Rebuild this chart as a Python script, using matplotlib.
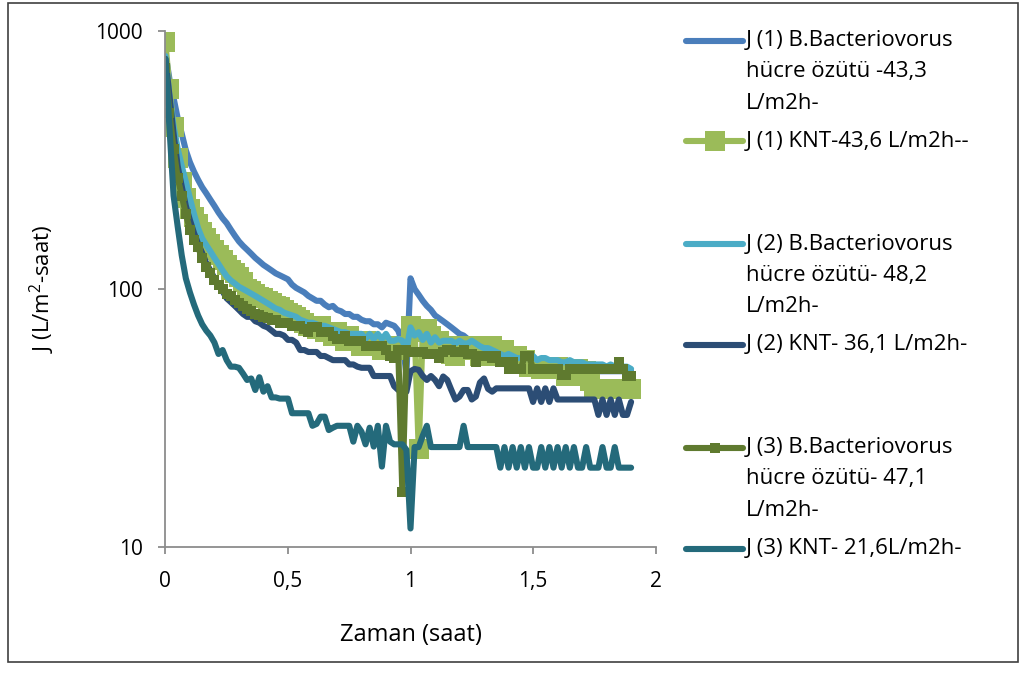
import numpy as np
import matplotlib
matplotlib.use("Agg")
import matplotlib.pyplot as plt
from matplotlib.lines import Line2D
from matplotlib.patches import Rectangle
from matplotlib.ticker import NullLocator, FixedLocator, FixedFormatter

plt.rcParams['font.family'] = ['Open Sans', 'DejaVu Sans']
plt.rcParams['mathtext.default'] = 'regular'

# ---------------- data (flux, L/m2h, one reading per minute) ----------------
minutes = np.arange(0, 115)
time_h = minutes / 60.0

j1_bb = [820, 650, 550, 460, 400, 345, 310, 285, 265, 248,
         235, 222, 210, 198, 188, 180, 170, 161, 153, 147,
         142, 137, 132, 128, 124, 121, 118, 115, 113, 111,
         109, 104, 101, 99, 97, 94, 92, 90, 90, 87,
         85, 86, 83, 82, 80, 80, 78, 78, 76, 75,
         75, 73, 73, 71, 74, 73, 72, 69, 62, 47,
         110, 100, 95, 90, 86, 83, 79, 77, 75, 73,
         71, 69, 67, 66, 64, 63, 61, 60, 59, 58,
         57.5, 57, 56, 55, 54.5, 54, 53.5, 53, 52.5, 52,
         52, 51.5, 51, 51, 50.5, 50.5, 50, 50, 49.5, 49.5,
         49, 49, 49, 48.5, 48.5, 48.5, 48, 48, 48, 48,
         48, 48, 48, 48, 48]

j1_knt = [906, 594, 426, 321, 261, 225, 205, 190, 178, 167,
          158, 150, 142, 136, 130, 124, 119, 115, 111, 106,
          100, 98, 96, 93, 92, 90, 88, 86, 85, 83,
          81, 79, 78, 76, 74, 72, 72, 70, 72, 68,
          68, 66, 68, 66, 63, 66, 63, 63, 60, 63,
          60, 60, 60, 58, 60, 58, 58, 58, 60, 60,
          72, 70, 24, 68, 70, 66, 63, 63, 60, 60,
          56, 55, 60, 60, 58, 60, 60, 55, 55, 55,
          60, 58, 58, 58, 55, 55, 55, 53, 53, 50,
          50, 50, 49, 49, 49, 50, 50, 49, 46, 46,
          49, 49, 48, 48, 44, 41, 41, 41, 41, 41,
          41, 41, 41, 41, 41]

j2_bb = [800, 560, 430, 350, 300, 260, 225, 195, 172, 157,
         148, 140, 132, 125, 118, 112, 108, 105, 102, 100,
         98, 96, 94, 92, 90, 88, 86, 84, 83, 81,
         80, 79, 78, 76, 75, 74, 74, 73, 72, 72,
         71, 70, 69, 68, 68, 67, 67, 67, 67, 64,
         67, 64, 67, 64, 67, 63, 63, 64, 63, 58,
         71, 66, 68, 63.5, 67, 62, 65, 62, 63, 63,
         63, 61.5, 63, 61.5, 61.5, 63, 61.5, 60, 59, 59,
         58, 57, 56, 55, 56, 55, 54, 54, 54, 54,
         55, 53, 54, 54, 53, 53, 53, 52, 52, 53,
         52, 52, 52, 51, 51, 51, 51, 51, 50, 51,
         50, 50, 50, 50, 49]

j2_knt = [780, 560, 400, 300, 250, 210, 185, 165, 150, 138,
          126, 118, 110, 104, 98, 92, 89, 86, 83, 80,
          78, 78, 75, 74, 72, 71, 69, 67, 67, 66,
          63.5, 63.5, 62, 58, 58, 57, 57, 57, 55, 55,
          54, 53, 53, 53, 53, 51, 51, 50, 49.5, 49.5,
          49.5, 46, 46, 46, 46, 46, 42, 40.6, 40.6, 40,
          48, 49, 48.6, 46, 44.4, 46, 44.4, 42, 45.8, 44.4,
          40.6, 37.3, 38.3, 40.6, 40.6, 37.3, 38.3, 43.4, 45, 41,
          40, 41.2, 41.2, 41.2, 41.2, 41.2, 41.2, 41.2, 41.2, 41.2,
          36.5, 41.2, 36.5, 41.2, 36.5, 41.2, 37.3, 37.3, 37.3, 37.3,
          37.3, 37.3, 37.3, 37.3, 37.3, 37.3, 32.5, 37.3, 32.5, 37.3,
          32.5, 37.3, 32.5, 32.5, 36.5]

j3_bb = [720, 480, 350, 270, 230, 195, 170, 155, 145, 132,
         122, 115, 108, 104, 100, 96, 94, 91, 88, 86,
         84, 82, 80, 79, 78, 77, 76, 76, 74, 74,
         74, 72, 72, 72, 70, 68, 71, 71, 68, 68,
         68, 66, 64, 64, 66, 63, 63, 63, 63, 60,
         60, 60, 60, 60, 58, 55, 54, 58, 16.3, 58,
         57, 57, 57, 57, 56, 56, 56, 54, 57, 58,
         58, 57, 57, 58, 56, 56, 52, 55, 55, 55,
         54, 55, 52, 52, 49, 52, 49, 49, 55, 55,
         49, 49, 49, 49, 49, 49, 49, 46.5, 46.5, 49,
         49, 49, 49, 49, 49, 49, 49, 49, 49, 49,
         49, 52, 49, 46, 46]

j3_knt = [780, 420, 230, 175, 135, 110, 97, 87, 79, 73,
          69, 66, 62, 56, 58, 53, 50, 50, 49.5, 47,
          44.4, 45, 40.6, 45.5, 40, 42, 38, 38, 37.6, 37.6,
          37.6, 33, 33, 33, 33, 33, 29.5, 30, 32, 32,
          28.4, 29, 29.5, 29.5, 29.5, 29.5, 25.6, 29.5, 28, 25,
          29, 24.5, 29.5, 20.5, 29.5, 25.6, 25, 25, 25, 23.8,
          11.8, 24.4, 24.4, 27, 29.5, 24.4, 24.4, 24.4, 24.4, 24.4,
          24.4, 24.4, 24.4, 29.5, 24.4, 24.4, 24.4, 24.4, 24.4, 24.4,
          24.4, 24.4, 20.3, 24.4, 20.3, 24.4, 20.3, 24.4, 20.3, 24.4,
          20.3, 20.3, 24.4, 20.3, 24.4, 20.3, 24.4, 20.3, 24.4, 20.3,
          24.4, 20.3, 20.3, 24.4, 20.3, 20.3, 20.3, 24.4, 20.3, 20.3,
          24.4, 20.3, 20.3, 20.3, 20.3]

series_values = [j1_bb, j1_knt, j2_bb, j2_knt, j3_bb, j3_knt]
series_labels = [
    "J (1) B.Bacteriovorus\nhücre özütü -43,3\nL/m2h-",
    "J (1) KNT-43,6 L/m2h--",
    "J (2) B.Bacteriovorus\nhücre özütü- 48,2\nL/m2h-",
    "J (2) KNT- 36,1 L/m2h-",
    "J (3) B.Bacteriovorus\nhücre özütü- 47,1\nL/m2h-",
    "J (3) KNT- 21,6L/m2h-",
]
x_ticks = [0, 0.5, 1, 1.5, 2]
x_tick_labels = ["0", "0,5", "1", "1,5", "2"]
y_ticks = [10, 100, 1000]
y_tick_labels = ["10", "100", "1000"]

# ---------------- styles ----------------
colors = ['#4A7EBB', '#9BBB59', '#4BACC6', '#2C4D75', '#5F7A2F', '#246A7B']
markers = [None, 's', None, None, 's', None]
msizes = [0, 14, 0, 0, 7.5, 0]
lw = 4.4

W, H = 1024, 677
fig = plt.figure(figsize=(W / 100, H / 100), dpi=100)
fig.patch.set_facecolor('white')


def fx(px):
    return px / W


def fy(py):
    return 1 - py / H


x0, x1, ytop, ybot = 165.4, 655.6, 31, 547
ax = fig.add_axes([fx(x0), fy(ybot), fx(x1) - fx(x0), fy(ytop) - fy(ybot)])

for vals, c, mk, ms in zip(series_values, colors, markers, msizes):
    ax.plot(time_h, vals, color=c, lw=lw, marker=mk, markersize=ms,
            markeredgecolor=c, markerfacecolor=c, markeredgewidth=0,
            solid_joinstyle='round', solid_capstyle='round')

ax.set_yscale('log')
ax.set_ylim(10, 1000)
ax.set_xlim(0, 2)
ax.yaxis.set_major_locator(FixedLocator(y_ticks))
ax.yaxis.set_major_formatter(FixedFormatter(y_tick_labels))
ax.yaxis.set_minor_locator(NullLocator())
ax.xaxis.set_major_locator(FixedLocator(x_ticks))
ax.xaxis.set_major_formatter(FixedFormatter(x_tick_labels))

for s in ['top', 'right']:
    ax.spines[s].set_visible(False)
for s in ['left', 'bottom']:
    ax.spines[s].set_color('#8C8C8C')
    ax.spines[s].set_linewidth(1.3)
ax.tick_params(axis='both', direction='out', length=5, width=1.3,
               color='#8C8C8C', labelsize=15, labelcolor='black')
ax.tick_params(axis='x', pad=12)
ax.tick_params(axis='y', pad=11)

ax.set_xlabel("Zaman (saat)", fontsize=17)
ax.set_ylabel("J (L/m$^2$-saat)", fontsize=16)
ax.xaxis.set_label_coords(0.5, -0.148)
ax.yaxis.set_label_coords(-0.222, 0.5)

# ---------------- legend (Excel style, handle aligned with first line) ----------------
entry_rows = [[40.7, 72.0, 103.3], [141.4], [244, 275.3, 306.6], [345],
              [447.5, 478.8, 510.1], [549]]
for rows, lab, c, mk, ms in zip(entry_rows, series_labels, colors, markers, msizes):
    yl = rows[0]
    fig.add_artist(Line2D([fx(686), fx(743)], [fy(yl), fy(yl)], transform=fig.transFigure,
                          color=c, lw=lw, solid_capstyle='round'))
    if mk:
        fig.add_artist(Line2D([fx(715)], [fy(yl)], transform=fig.transFigure, color=c,
                              marker=mk, markersize=ms, markeredgewidth=0, lw=0))
    for r, line in zip(rows, lab.split("\n")):
        fig.text(fx(746), fy(r), line, fontsize=16, va='center', ha='left', color='black')

# chart frame
fig.add_artist(Rectangle((fx(8), fy(662)), fx(1018) - fx(8), fy(3) - fy(662),
                         transform=fig.transFigure, fill=False, edgecolor='#404040', lw=1.2))

fig.savefig("out.png", dpi=100, facecolor='white')
